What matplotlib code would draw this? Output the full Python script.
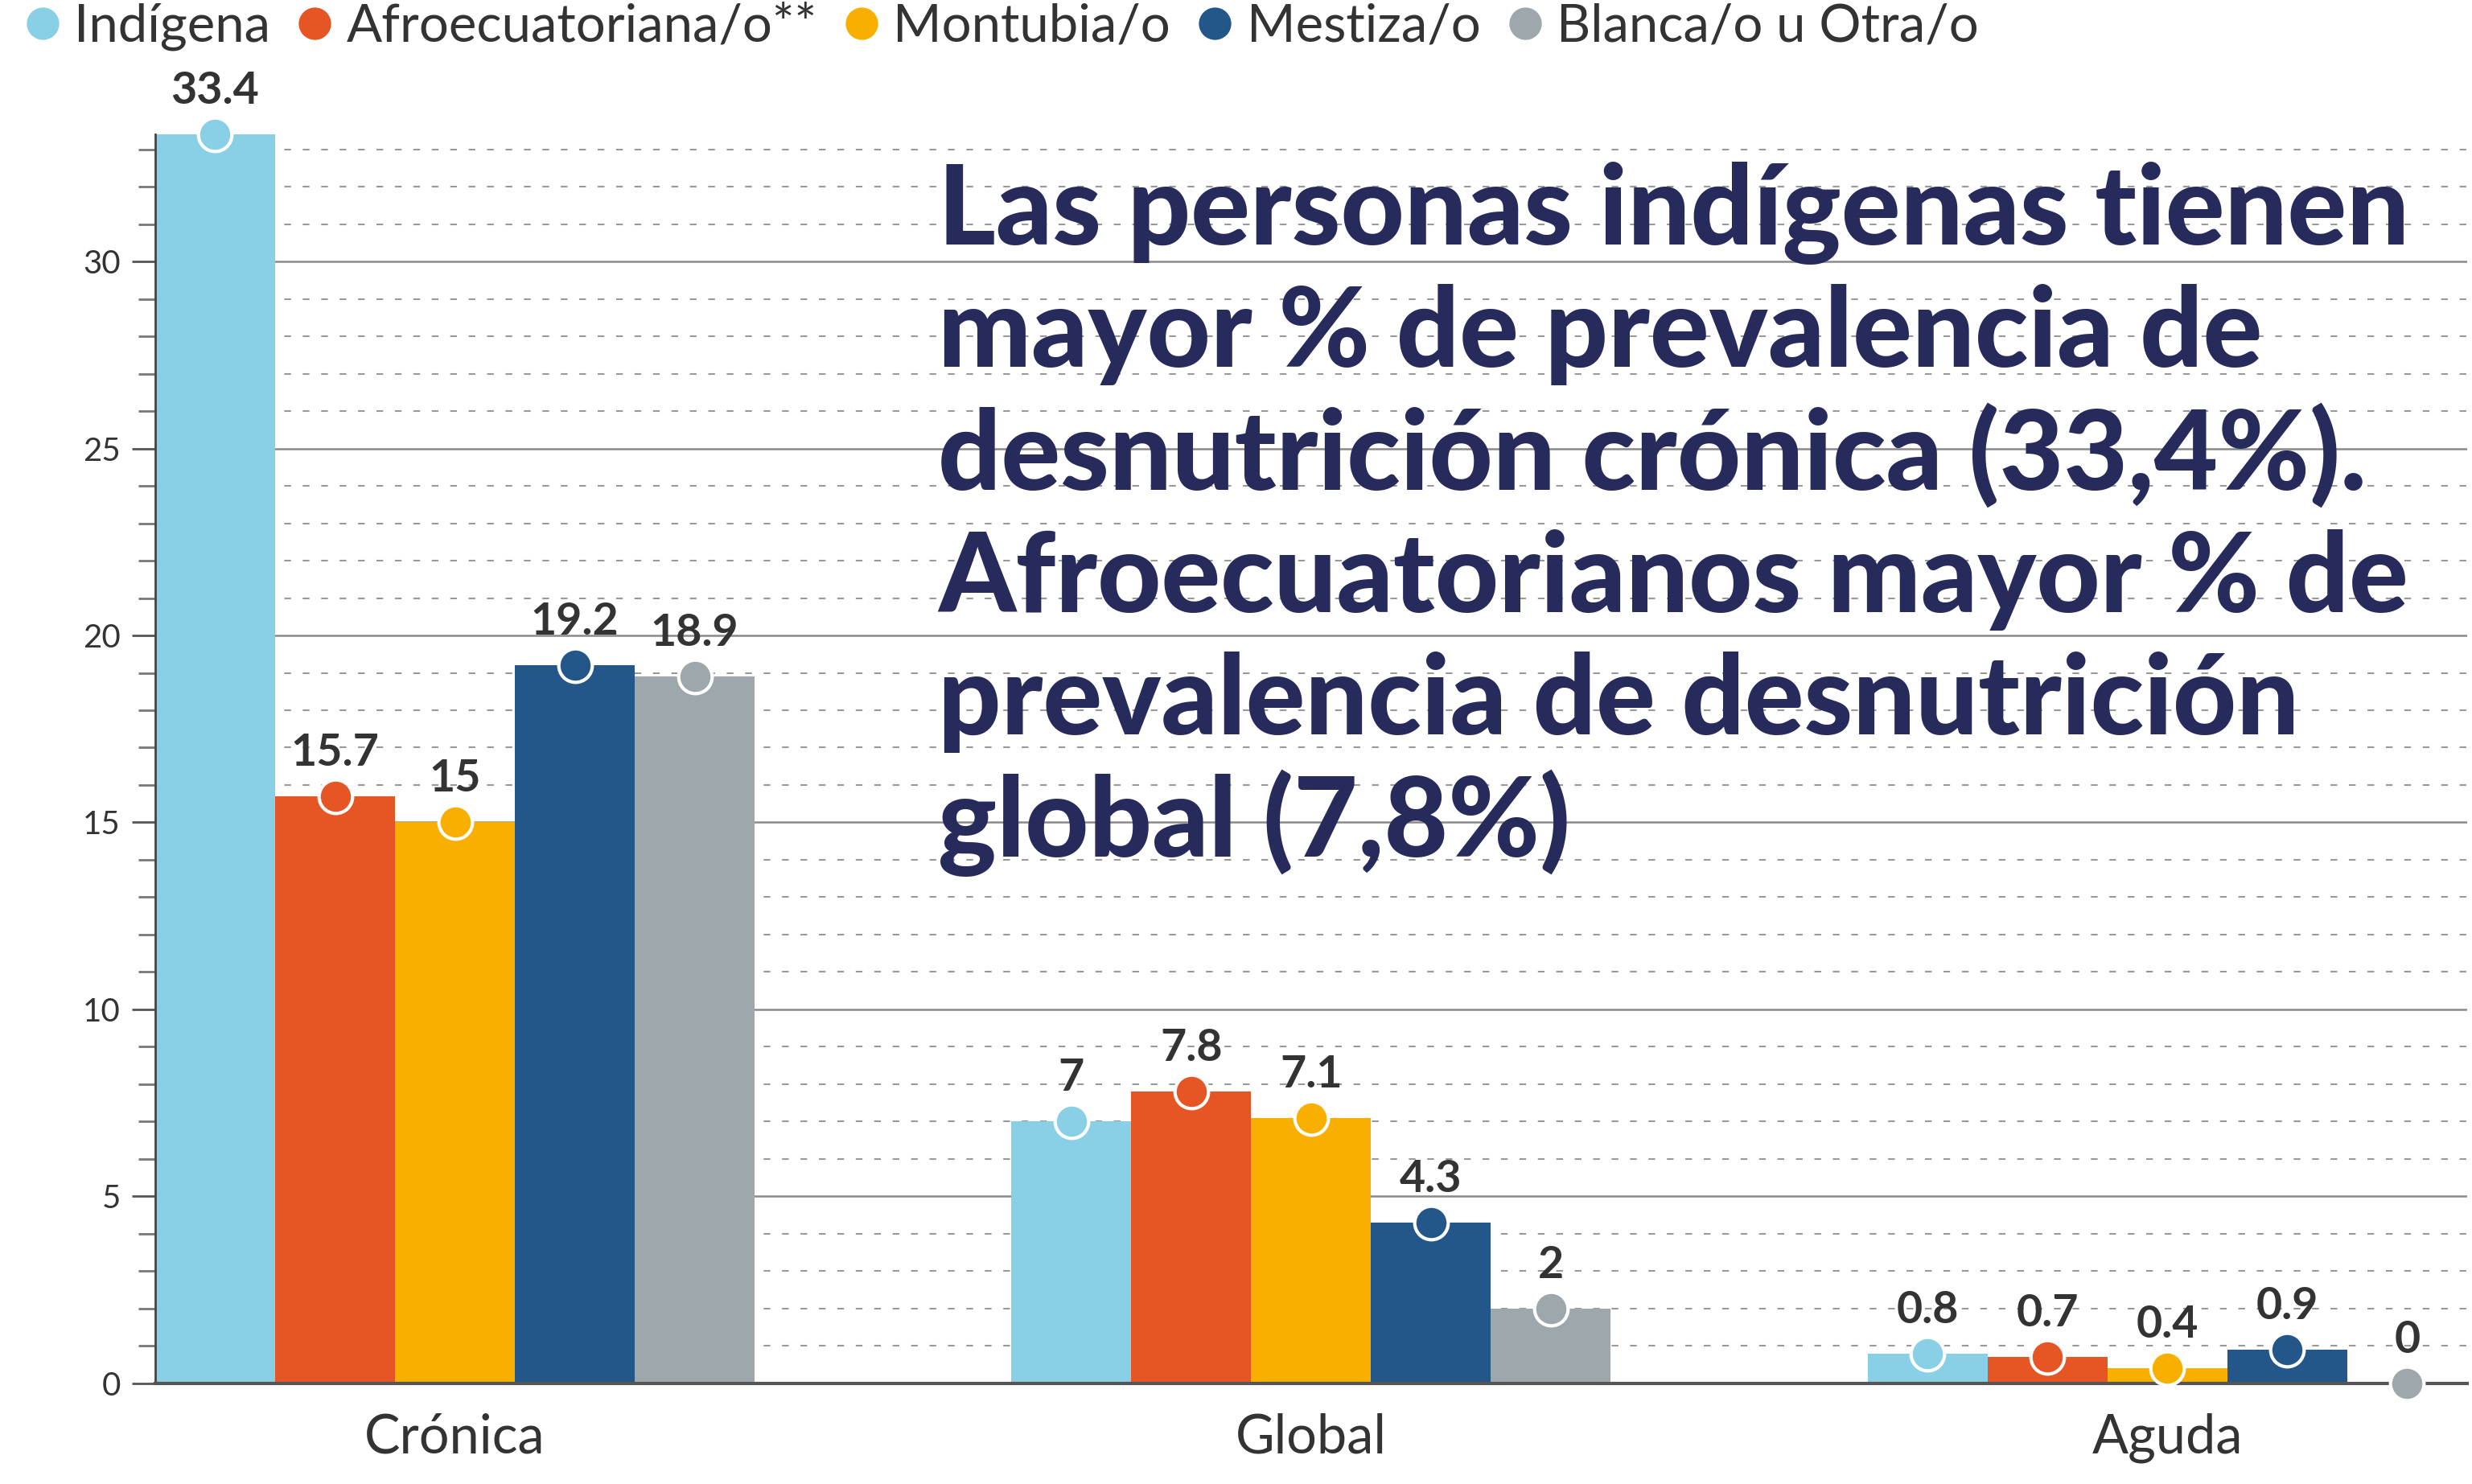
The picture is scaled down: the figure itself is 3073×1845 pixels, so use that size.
import matplotlib as mpl
import matplotlib.pyplot as plt
from matplotlib.lines import Line2D
from matplotlib.ticker import MultipleLocator
import numpy as np

categories = ['Crónica', 'Global', 'Aguda']
series_names = ['Indígena', 'Afroecuatoriana/o**', 'Montubia/o', 'Mestiza/o', 'Blanca/o u Otra/o']
indigena = [33.4, 7, 0.8]
afro = [15.7, 7.8, 0.7]
montubia = [15, 7.1, 0.4]
mestiza = [19.2, 4.3, 0.9]
blanca = [18.9, 2, 0]
colors = ['#89CFE5', '#E65524', '#F8AF00', '#23578A', '#9DA7AC']

headline = ['Las personas indígenas tienen',
            'mayor % de prevalencia de',
            'desnutrición crónica (33,4%).',
            'Afroecuatorianos mayor % de',
            'prevalencia de desnutrición',
            'global (7,8%)']

plt.rcParams['font.family'] = ['Lato', 'DejaVu Sans']
txt = '#333333'

fig = plt.figure(figsize=(30.73, 18.45), dpi=100)
ax = fig.add_axes([0.0628, 0.0678, 0.9352, 0.8417])

all_series = [indigena, afro, montubia, mestiza, blanca]
x = np.arange(len(categories))
w = 0.14
for i, vals in enumerate(all_series):
    xs = x + (i - 2) * w
    ax.bar(xs, vals, width=w, color=colors[i], zorder=2)
    ax.plot(xs, vals, 'o', ms=30, mfc=colors[i], mec='white', mew=3,
            zorder=4, clip_on=False)
    for xx, v in zip(xs, vals):
        ax.annotate(f'{v:g}', (xx, v), xytext=(0, 21), textcoords='offset points',
                    ha='center', va='bottom', fontsize=40, fontweight='bold',
                    color=txt, zorder=5, annotation_clip=False)

ax.set_xlim(-0.35, 2.35)
ax.set_ylim(0, 33.4)
ax.yaxis.set_major_locator(MultipleLocator(5))
ax.yaxis.set_minor_locator(MultipleLocator(1))
ax.grid(axis='y', which='major', color='#8a8a8a', lw=1.8, zorder=0)
ax.grid(axis='y', which='minor', color='#999999', lw=1.5, ls=(0, (4, 7)), zorder=0)
ax.set_axisbelow(True)
for s in ['top', 'right']:
    ax.spines[s].set_visible(False)
ax.spines['left'].set_color('#444444')
ax.spines['left'].set_linewidth(2)
ax.spines['bottom'].set_color('#555555')
ax.spines['bottom'].set_linewidth(3)
ax.spines['bottom'].set_zorder(3)
ax.tick_params(axis='y', which='major', length=21, width=2, color='#555555',
               labelsize=29, labelcolor=txt, pad=10)
ax.tick_params(axis='y', which='minor', length=15, width=2, color='#777777')
ax.set_xticks(x)
ax.set_xticklabels(categories)
ax.tick_params(axis='x', length=0, labelsize=48, labelcolor=txt, pad=26)

handles = [Line2D([], [], ls='none', marker='o', ms=29, mfc=c, mec='none') for c in colors]
fig.legend(handles, series_names, loc='upper left', bbox_to_anchor=(-0.002, 1.012),
           ncol=5, frameon=False, fontsize=47, labelcolor=txt,
           handletextpad=0.1, columnspacing=0.35, handlelength=1.0, borderaxespad=0)

y0 = 0.835
for k, line in enumerate(headline):
    fig.text(0.3794, y0 - k * 0.0824, line, fontsize=99, fontweight='black',
             color='#262B5B', va='baseline', ha='left', zorder=6)

fig.savefig('out.png', dpi=100)
